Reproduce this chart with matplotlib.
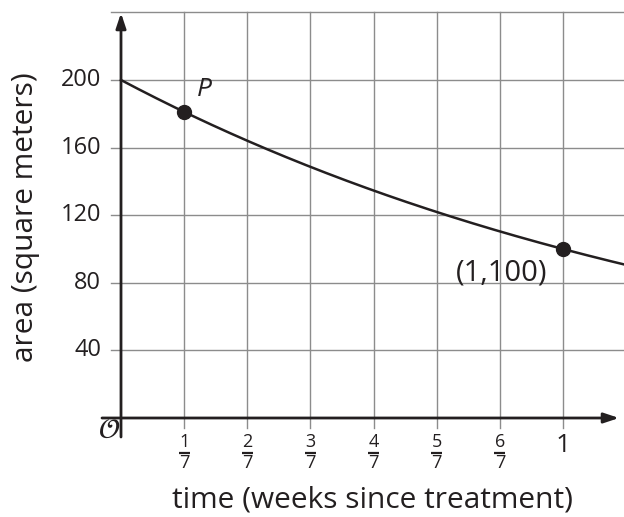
import numpy as np
import matplotlib
matplotlib.use("Agg")
import matplotlib.pyplot as plt

# ---- data ----
x_ticks_num = [1, 2, 3, 4, 5, 6]      # fractions k/7
x_den = 7
y_ticks = [40, 80, 120, 160, 200]
y_grid = [40, 80, 120, 160, 200, 240]
x_grid = [1/7, 2/7, 3/7, 4/7, 5/7, 6/7, 1.0, 8/7]
initial_area = 200.0
weekly_factor = 0.5
pts_x = [1/7, 1.0]
pts_y = [181.1, 100.0]
pt_labels = ["P", "(1,100)"]

plt.rcParams['font.family'] = ['Open Sans', 'DejaVu Sans']
W, H = 624, 517
fig = plt.figure(figsize=(W/100, H/100), dpi=100)
ax = fig.add_axes([0, 0, 1, 1])

# pixel mapping: x=0 -> 121px, x=1 -> 563px ; y=0 -> 418px, y=200 -> 80px
X0, XS = 121.0, 442.0
Y0, YS = 418.0, 338.0/200.0
def dx(px): return (px - X0)/XS
def dy(py): return (Y0 - py)/YS
ax.set_xlim(dx(0), dx(W))
ax.set_ylim(dy(H), dy(0))
ax.axis('off')

grid_c = '#8c8c8c'
txt_c = '#231f20'
# grid lines
for g in x_grid:
    ax.plot([g, g], [dy(428), 240], color=grid_c, lw=1.0, clip_on=False, zorder=1)
for g in y_grid:
    ax.plot([dx(111), dx(W+5)], [g, g], color=grid_c, lw=1.0, clip_on=False, zorder=1)

# axes
ax.annotate('', xy=(dx(619), 0), xytext=(dx(102), 0),
            arrowprops=dict(arrowstyle='-|>,head_length=0.9,head_width=0.3', lw=2.0, color=txt_c,
                            shrinkA=0, shrinkB=0), zorder=3)
ax.annotate('', xy=(0, dy(13)), xytext=(0, dy(437)),
            arrowprops=dict(arrowstyle='-|>,head_length=0.9,head_width=0.3', lw=2.0, color=txt_c,
                            shrinkA=0, shrinkB=0), zorder=3)

# curve
xs = np.linspace(0, dx(W), 300)
ax.plot(xs, initial_area*weekly_factor**xs, color=txt_c, lw=1.8, zorder=4, clip_on=False)
ax.plot(pts_x, pts_y, 'o', color=txt_c, ms=10, zorder=5)

# point labels
ax.text(pts_x[0] + dx(205)-dx(185), pts_y[0] + (dy(88)-dy(110)), pt_labels[0],
        fontsize=19, style='italic', color=txt_c, ha='center', va='center')
ax.text(dx(502), dy(273), pt_labels[1], fontsize=21, color=txt_c, ha='center', va='center')

# y tick labels
for v in y_ticks:
    ax.text(dx(101), v, str(v), fontsize=17, color=txt_c, ha='right', va='center')

# x tick labels (fractions)
for n in x_ticks_num:
    xc = n/x_den
    ax.text(xc, dy(442), str(n), fontsize=13, color=txt_c, ha='center', va='center')
    ax.plot([xc - 5.5/XS, xc + 5.5/XS], [dy(453)]*2, color=txt_c, lw=1.6, clip_on=False,
            solid_capstyle='butt')
    ax.text(xc, dy(463), str(x_den), fontsize=13, color=txt_c, ha='center', va='center')
ax.text(1.0, dy(445), '1', fontsize=19, color=txt_c, ha='center', va='center')

# origin label
ax.text(dx(109), dy(431), r'$\mathcal{O}$', fontsize=20, color=txt_c, ha='center', va='center')

# axis titles
ax.text(dx(373), dy(500), 'time (weeks since treatment)', fontsize=21.5, color=txt_c,
        ha='center', va='center')
ax.text(dx(25), dy(217), 'area (square meters)', fontsize=21.5, color=txt_c,
        ha='center', va='center', rotation=90)

fig.savefig('out.png', dpi=100)
